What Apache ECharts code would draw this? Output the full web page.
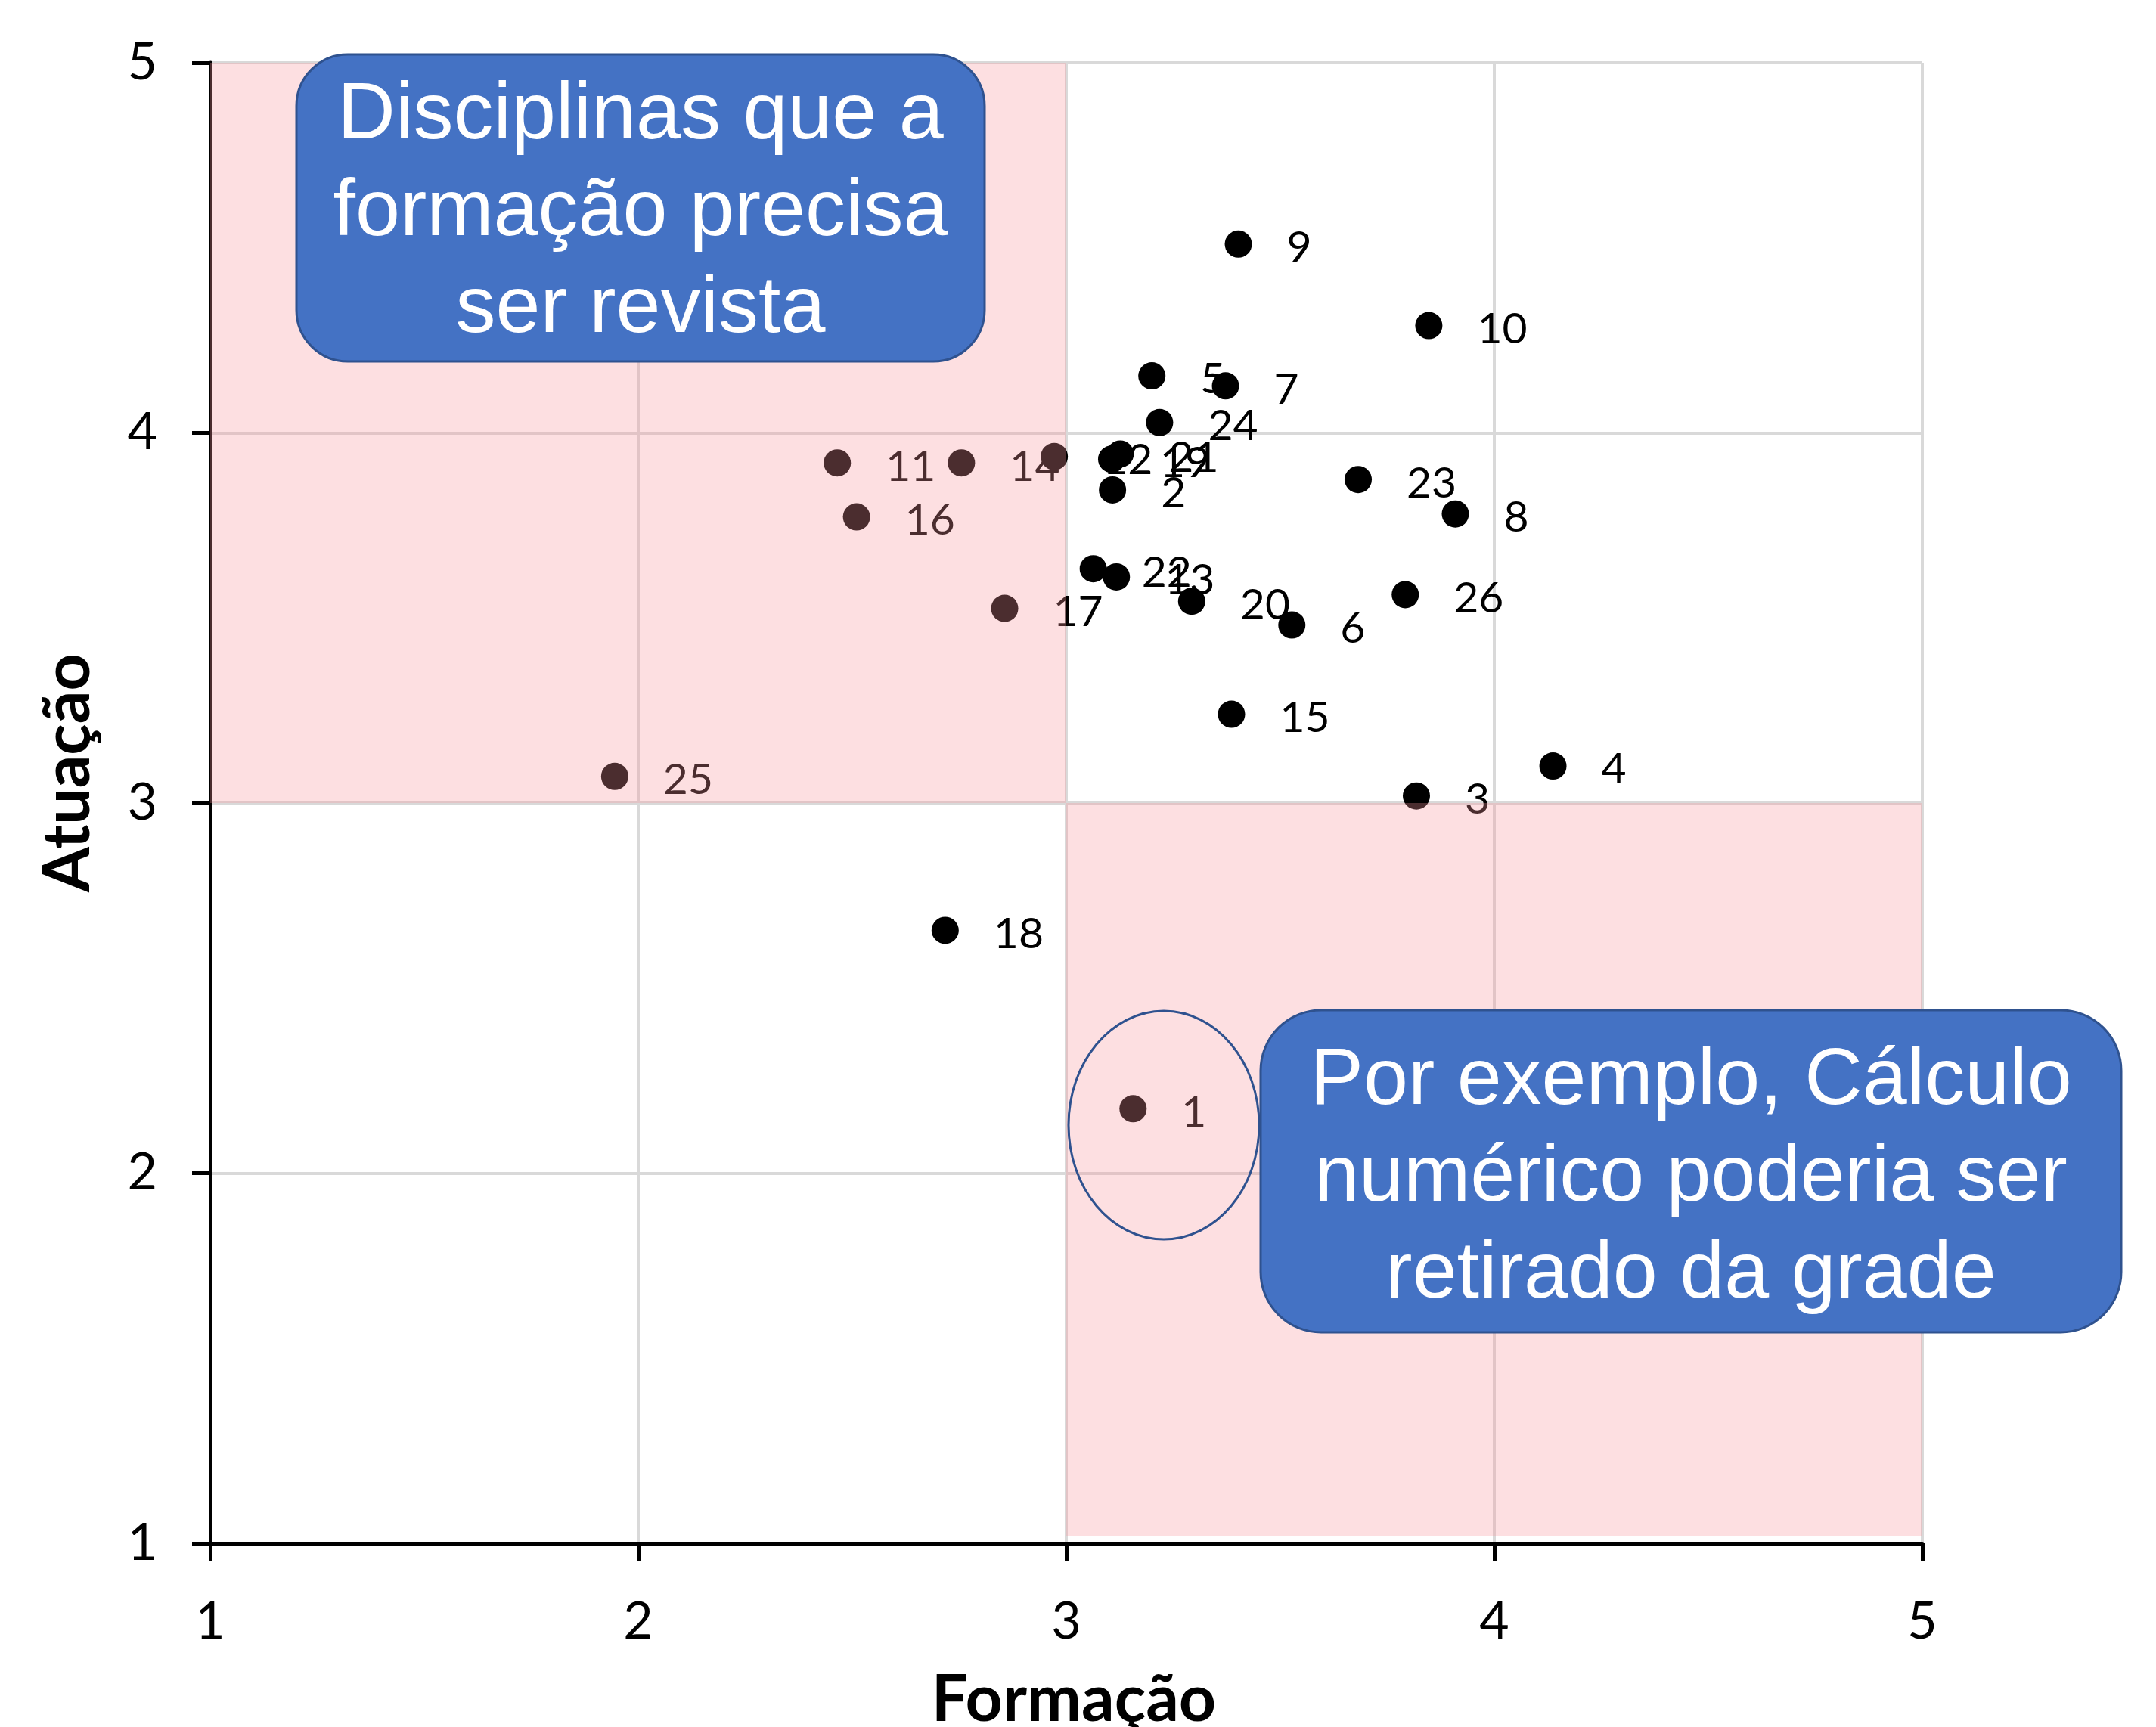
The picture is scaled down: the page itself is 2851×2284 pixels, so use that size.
<!DOCTYPE html>
<html>
<head>
<meta charset="utf-8">
<style>
html,body{margin:0;padding:0;background:#ffffff;}
#chart{width:2851px;height:2284px;}
</style>
<script src="https://cdn.jsdelivr.net/npm/echarts@6/dist/echarts.min.js"></script>
</head>
<body>
<div id="chart"></div>
<script>
// Discipline ids (data labels)
const ids = [1,2,3,4,5,6,7,8,9,10,11,12,13,14,15,16,17,18,19,20,21,22,23,24,25,26];
// Formação (x)
const formacao = [3.156,3.108,3.818,4.137,3.200,3.527,3.372,3.909,3.402,3.847,2.465,2.972,3.117,2.755,3.386,2.510,2.856,2.717,3.106,3.293,3.126,3.063,3.682,3.218,1.945,3.792];
// Atuação (y)
const atuacao = [2.174,3.846,3.019,3.100,4.154,3.481,4.127,3.781,4.510,4.290,3.919,3.936,3.611,3.919,3.240,3.773,3.526,2.656,3.929,3.545,3.943,3.633,3.874,4.028,3.072,3.563];
// Highlighted quadrants: [xFrom, yFrom, xTo, yTo]
const zones = [[1,3,3,5],[3,1.02,5,3]];
const tickValues = [1,2,3,4,5];
const xTitle = 'Formação';
const yTitle = 'Atuação';
const noteTop = 'Disciplinas que a\nformação precisa\nser revista';
const noteBottom = 'Por exemplo, Cálculo\nnumérico poderia ser\nretirado da grade';

const points = ids.map((id, i) => [formacao[i], atuacao[i], id]);

const chart = echarts.init(document.getElementById('chart'), null, {renderer: 'canvas'});

const axisCommon = {
  type: 'value',
  min: tickValues[0],
  max: tickValues[tickValues.length - 1],
  interval: 1,
  axisLine: {show: true, onZero: false, lineStyle: {color: '#000000', width: 5}},
  axisTick: {show: true, inside: false, length: 24, lineStyle: {color: '#000000', width: 5}},
  axisLabel: {show: true, color: '#000000', fontFamily: 'Lato', fontSize: 68, margin: 70},
  splitLine: {show: true, lineStyle: {color: '#d9d9d9', width: 4}}
};

const option = {
  backgroundColor: '#ffffff',
  animation: false,
  grid: {left: 278, right: 309, top: 83, bottom: 243, containLabel: false, outerBoundsMode: 'none'},
  xAxis: Object.assign({}, axisCommon),
  yAxis: Object.assign({}, axisCommon),
  series: [
    {
      type: 'scatter',
      z: 2,
      data: points,
      symbol: 'circle',
      symbolSize: 36,
      itemStyle: {color: '#000000', opacity: 1},
      label: {
        show: true,
        position: 'right',
        distance: 46,
        offset: [0, 5],
        color: '#000000',
        fontFamily: 'Lato',
        fontSize: 57,
        formatter: p => String(p.data[2])
      },
      emphasis: {disabled: true}
    },
    {
      type: 'custom',
      z: 10,
      silent: true,
      data: zones,
      encode: {x: [0, 2], y: [1, 3]},
      renderItem: function (params, api) {
        const p1 = api.coord([api.value(0), api.value(3)]);
        const p2 = api.coord([api.value(2), api.value(1)]);
        return {
          type: 'rect',
          shape: {x: p1[0], y: p1[1], width: p2[0] - p1[0], height: p2[1] - p1[1]},
          style: {fill: 'rgba(249,148,155,0.3)'}
        };
      }
    }
  ],
  graphic: {
    elements: [
      {
        type: 'rect', z: 100, silent: true,
        shape: {x: 392, y: 72, width: 910, height: 406, r: 68},
        style: {fill: '#4472C4', stroke: '#2F528F', lineWidth: 3}
      },
      {
        type: 'text', z: 101, silent: true, x: 847, y: 282,
        style: {text: noteTop, fill: '#ffffff', fontFamily: 'Liberation Sans', fontSize: 106,
                lineHeight: 128, align: 'center', verticalAlign: 'middle'}
      },
      {
        type: 'ellipse', z: 100, silent: true,
        shape: {cx: 1539, cy: 1488, rx: 126, ry: 151},
        style: {fill: 'none', stroke: '#2F528F', lineWidth: 3}
      },
      {
        type: 'rect', z: 100, silent: true,
        shape: {x: 1667, y: 1336, width: 1138, height: 426, r: 80},
        style: {fill: '#4472C4', stroke: '#2F528F', lineWidth: 3}
      },
      {
        type: 'text', z: 101, silent: true, x: 2236, y: 1559,
        style: {text: noteBottom, fill: '#ffffff', fontFamily: 'Liberation Sans', fontSize: 106,
                lineHeight: 128, align: 'center', verticalAlign: 'middle'}
      },
      {
        type: 'text', z: 100, silent: true, x: 1420, y: 2248,
        style: {text: xTitle, fill: '#000000', fontFamily: 'Lato', fontWeight: 'bold', fontSize: 86,
                align: 'center', verticalAlign: 'middle'}
      },
      {
        type: 'text', z: 100, silent: true, x: 90, y: 1022, rotation: Math.PI / 2,
        style: {text: yTitle, fill: '#000000', fontFamily: 'Lato', fontWeight: 'bold', fontSize: 86,
                align: 'center', verticalAlign: 'middle'}
      }
    ]
  }
};

chart.setOption(option);
</script>
</body>
</html>
